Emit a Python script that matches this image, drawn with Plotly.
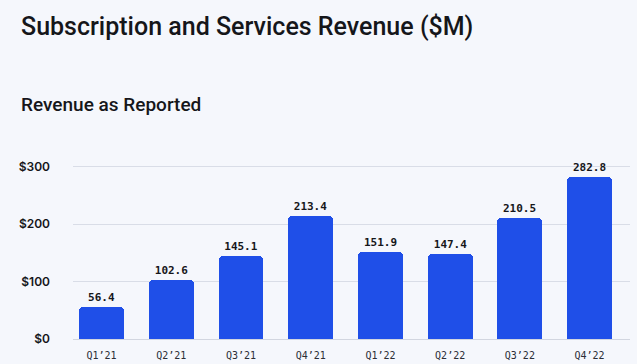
import plotly.graph_objects as go

quarters = ["Q1’21", "Q2’21", "Q3’21", "Q4’21", "Q1’22", "Q2’22", "Q3’22", "Q4’22"]
revenue = [56.4, 102.6, 145.1, 213.4, 151.9, 147.4, 210.5, 282.8]
tick_vals = [0, 100, 200, 300]
tick_text = ["$0", "$100", "$200", "$300"]

BG = "#f5f7fc"
BAR = "#1f4fe8"
INK = "#15161a"

W, H = 637, 364
pl, pr, pt, pb = 73, 7, 161, 25
pw, ph = W - pl - pr, H - pt - pb


def px_x(v):
    return (v - pl) / pw


def px_y(v):
    return 1 + (pt - v) / ph


fig = go.Figure(go.Bar(
    x=list(range(len(quarters))),
    y=revenue,
    width=0.645,
    marker=dict(color=BAR, line=dict(width=0), cornerradius=4),
    text=[f"{v:.1f}" for v in revenue],
    textposition="outside",
    textfont=dict(family="DejaVu Sans Mono", size=11, color=INK, weight="bold"),
    cliponaxis=False,
    hoverinfo="skip",
))

fig.update_layout(
    width=W, height=H,
    margin=dict(l=pl, r=pr, t=pt, b=pb),
    paper_bgcolor=BG, plot_bgcolor=BG,
    showlegend=False,
    bargap=0,
    xaxis=dict(
        range=[-0.41, 7.58],
        automargin=False,
        tickmode="array", tickvals=list(range(len(quarters))), ticktext=quarters,
        tickfont=dict(family="DejaVu Sans Mono", size=10, color="#2a2d36"),
        showgrid=False, zeroline=False, showline=False,
        ticks="outside", ticklen=7, tickcolor="rgba(0,0,0,0)",
    ),
    yaxis=dict(
        range=[0, 310],
        automargin=False,
        tickmode="array", tickvals=tick_vals, ticktext=tick_text,
        tickfont=dict(family="Inter", size=12, color=INK, weight=600),
        showgrid=True, gridcolor="#d9dde7", gridwidth=1,
        zeroline=True, zerolinecolor="#d2d6e0", zerolinewidth=1,
        showline=False,
        ticklabelstandoff=22,
    ),
    annotations=[
        dict(text="Subscription and Services Revenue ($M)", x=px_x(19), y=px_y(10),
             xref="paper", yref="paper", showarrow=False,
             xanchor="left", yanchor="top",
             font=dict(family="Roboto", size=25, color=INK, weight=500)),
        dict(text="Revenue as Reported", x=px_x(19), y=px_y(91),
             xref="paper", yref="paper", showarrow=False,
             xanchor="left", yanchor="top",
             font=dict(family="Roboto", size=19, color=INK, weight=500)),
    ],
)

fig.write_html(
    "out.html",
    config={"displayModeBar": False},
    post_script="document.body.style.margin='0';document.body.style.overflow='hidden';",
)
